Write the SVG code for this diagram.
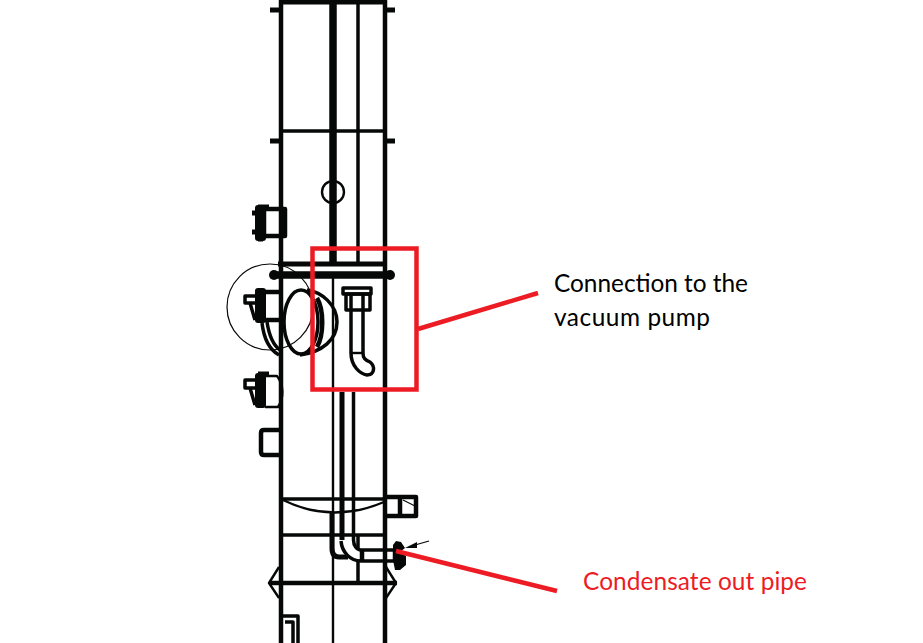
<svg xmlns="http://www.w3.org/2000/svg" width="923" height="643" viewBox="0 0 923 643">
<style>
.k{fill:none;stroke:#060807;stroke-linecap:butt;stroke-linejoin:round}
.w1{stroke-width:1.2}.w2{stroke-width:2.4}.w3{stroke-width:3.5}.w4{stroke-width:4.5}.w5{stroke-width:5}.w7{stroke-width:7.5}
.b{fill:#060807;stroke:none}
.r{fill:none;stroke:#ed1c24;stroke-width:4.5}
.t{font-family:"Lato","Liberation Sans",sans-serif;font-size:24.4px}
</style>
<rect width="923" height="643" fill="#fff"/>
<g id="vessel">
<path class="k w4" d="M281 0V643M385 0V643"/>
<path class="k w5" d="M279 2H387"/>
<path class="k w7" d="M333 0V264"/>
<path class="k w3" d="M358 0V264"/>
<path class="k w3" d="M281 131H385"/>
<path class="k w5" d="M270 10H280M387 10H395M270 141H280M387 141H395" stroke-linecap="round"/>
<circle class="k w2" cx="333" cy="192" r="11"/>
<path class="k w5" d="M278 264H387"/>
<path class="k w7" d="M273 275H392"/>
<circle class="b" cx="274" cy="275" r="5"/><circle class="b" cx="390" cy="275" r="5"/>
<path class="k w2" d="M333 275V643"/>
<path class="k w3" d="M282 499H385"/>
<path class="k w2" d="M283 500Q332 524 384 502"/>
<path class="k w3" d="M282 535H385"/>
<path class="k w4" d="M269 583H397"/>
<path class="k w2" d="M279 567L269 583L279 598M386 567L396 583L386 598"/>
<path class="k w3" d="M358 535V550M358 561V583"/>
<path class="k w3" d="M283 616H298V643M285 622H293V643"/>
</g>
<g id="nozzle-upper-left">
<rect class="k w4" x="264" y="209" width="21" height="27" fill="#fff"/>
<rect class="b" x="255" y="205" width="11" height="36" rx="3"/>
<path class="k w5" d="M252 213H258M252 232H258M258 207H269M258 239H263" stroke-linecap="round"/>
</g>
<g id="nozzle-middle-left">
<circle class="k w1" cx="270" cy="307" r="43"/>
<path class="k w4" d="M263 292H282M263 320H282"/>
<rect class="b" x="255" y="288" width="11" height="35" rx="3"/>
<path class="k w3" d="M245 296H257V303H245ZM250 303L255 320"/>
<path class="k w3" d="M262 323C264 340 270 350 279 355M267 322C269 335 273 345 280 350"/>
<ellipse class="k w3" cx="301" cy="322" rx="17" ry="32"/>
<path class="k w3" d="M307 290C322 292 337 305 337 322C337 340 322 352 300 355"/>
<path class="k w4" d="M317 298C324 310 324 335 317 347"/>
</g>
<g id="nozzle-lower-left">
<rect class="b" x="255" y="373" width="11" height="35" rx="3"/>
<path class="k w3" d="M245 380H257V388H245ZM250 388L255 405"/>
<path class="k w2" d="M265 376H277C284 385 284 398 278 407H265"/>
<path class="k w5" d="M258 374H269" stroke-linecap="round"/>
</g>
<g id="port-left">
<path class="k w4" d="M280 430H264Q261 430 261 433V452Q261 455 264 455H280"/>
</g>
<g id="nozzle-right">
<path class="k w4" d="M386 497H416V516H386M400 497V516"/>
<path class="k w1" d="M403 500L415 506"/>
</g>
<g id="vacuum-connection">
<rect class="k w3" x="343" y="288" width="28" height="6"/>
<rect class="k w3" x="346" y="294" width="24" height="16"/>
<path class="k w2" d="M351 353H363"/>
<path class="k w3" d="M351 294V353C351 366 360 374 367 375C374 375 376 367 370 362C365 360 363 358 363 353V294"/>
</g>
<g id="condensate-pipe">
<path class="k w5" d="M342 392V540"/>
<path class="k w3" d="M353.500 392V540C353.500 546 357 550 361 550H395M341 541C342 552 350 561 361 561H395"/>
<path class="k w5" d="M332 512V548Q332 557 339 557H348"/>
<path class="k w4" d="M362 550V561M395 549V562"/>
<path class="b" d="M393 545L396 541L401 542L405 548L400 552L406 556L406 565L400 570L395 570L393 560Z"/>
<path class="b" d="M405 548L417 542L417 548Z"/>
<path class="k w1" d="M415 545L429 541"/>
</g>
<g id="connectors">
<rect class="r" x="312.500" y="248.500" width="104" height="141"/>
<path class="r" d="M418 329L538 293"/>
<path class="r" d="M396 551L557 591"/>
</g>
<g id="label-vacuum">
<text class="t" x="554" y="292" fill="#000" textLength="194">Connection to the</text>
<text class="t" x="554" y="326" fill="#000" textLength="156">vacuum pump</text>
</g>
<g id="label-condensate">
<text class="t" x="583" y="590" fill="#ed1c24" textLength="224">Condensate out pipe</text>
</g>
</svg>
